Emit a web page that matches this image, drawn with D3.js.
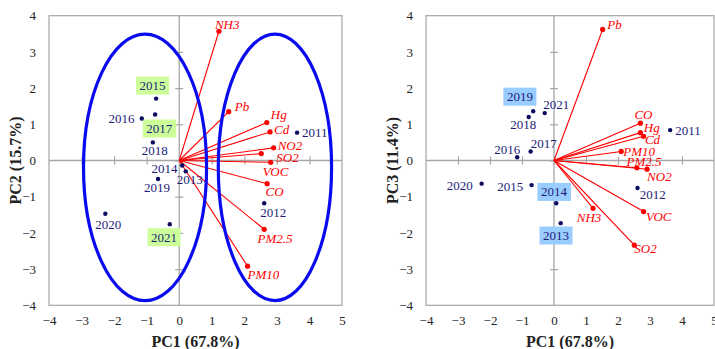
<!DOCTYPE html>
<html>
<head>
<meta charset="utf-8">
<script src="https://cdn.jsdelivr.net/npm/d3@7"></script>
<style>
  html, body { margin: 0; padding: 0; background: #fff; }
  svg { display: block; }
  text { font-family: "Liberation Serif", "Times New Roman", serif; }
</style>
</head>
<body>
<svg id="chart" width="715" height="349"></svg>
<script>
// ---------------- DATA ----------------
const years = ["2011","2012","2013","2014","2015","2016","2017","2018","2019","2020","2021"];
// Scores PC1 / PC2 / PC3
const scorePC1 = [3.62, 2.61, 0.20, 0.09, -0.71, -1.15, -0.74, -0.81, -0.65, -2.27, -0.29];
const scorePC2 = [0.77, -1.18, -0.30, -0.14, 1.71, 1.16, 1.27, 0.50, -0.51, -1.47, -1.76];
const scorePC1b = [3.63, 2.61, 0.21, 0.07, -0.70, -1.15, -0.73, -0.79, -0.65, -2.26, -0.29];
const scorePC3 = [0.84, -0.76, -1.73, -1.18, -0.68, 0.09, 0.25, 1.20, 1.36, -0.64, 1.31];

const pollutants = ["NH3","Pb","Hg","Cd","NO2","SO2","VOC","CO","PM2.5","PM10"];
// Loadings (scaled) PC1 / PC2 / PC3
const loadPC1 = [1.22, 1.52, 2.69, 2.79, 2.90, 2.52, 2.81, 2.70, 2.61, 2.10];
const loadPC2 = [3.57, 1.35, 1.05, 0.79, 0.35, 0.19, -0.05, -0.64, -1.90, -2.92];
const loadPC1b = [1.22, 1.52, 2.70, 2.80, 2.91, 2.51, 2.80, 2.70, 2.59, 2.10];
const loadPC3 = [-1.32, 3.62, 0.77, 0.67, -0.24, -2.34, -1.41, 1.03, -0.20, 0.25];

// Cluster ellipses (centre x, centre y, radius x, radius y) in PC1/PC2 units
const ellipseCX = [-1.05, 2.94];
const ellipseCY = [-0.19, -0.19];
const ellipseRX = [1.89, 1.74];
const ellipseRY = [3.68, 3.68];

const xTicks = [-4,-3,-2,-1,0,1,2,3,4,5];
const yTicks = [-4,-3,-2,-1,0,1,2,3,4];

const highlightLeft = ["2015","2017","2021"];
const highlightRight = ["2019","2014","2013"];

// ---------------- LAYOUT (label offsets, px) ----------------
const scoreOffLeft = {
  "2011":[5,0],"2012":[-4,9],"2013":[-9,8],"2014":[-30.6,3],"2015":[-16.5,-13],
  "2016":[-33.4,0],"2017":[-8.8,14],"2018":[-11,8],"2019":[-14,8.4],"2020":[-10,11],"2021":[-18.7,13]
};
const scoreOffRight = {
  "2011":[5,0],"2012":[2.3,6],"2013":[-17.7,12.4],"2014":[-15.3,-11.3],"2015":[-34.4,1],
  "2016":[-23,-8],"2017":[0,-8.4],"2018":[-18.4,7.7],"2019":[-26.3,-14.6],"2020":[-35,2],"2021":[-1.4,-8.3]
};
const loadOffLeft = {
  "NH3":[-4,-7],"Pb":[6,-5],"Hg":[4,-8],"Cd":[4,-2],"NO2":[4,-2],"SO2":[15,4],
  "VOC":[-8,9],"CO":[-1.6,8],"PM2.5":[-6.6,9.7],"PM10":[0,8]
};
const loadOffRight = {
  "Pb":[4.6,-5.4],"CO":[-6,-8.3],"Hg":[3.4,-5],"Cd":[1.3,3.7],"PM10":[2,0],
  "PM2.5":[-10.3,-6.3],"NO2":[0,7.4],"NH3":[-16.3,9],"VOC":[2.3,5],"SO2":[0,3.7]
};

const svg = d3.select("#chart");
svg.append("rect").attr("width",715).attr("height",349).attr("fill","#fff");

const NAVY = "#1c1c78";
const DOT = "#0a0a60";
const RED = "#ff0000";
const GRAY = "#a6a6a6";

function panel(opts) {
  const x = d3.scaleLinear().domain([-4,5]).range([opts.left, opts.right]);
  const y = d3.scaleLinear().domain([-4,4]).range([305.3, 15.7]);
  const g = svg.append("g");

  // frame
  g.append("rect")
    .attr("x", x(-4)).attr("y", y(4))
    .attr("width", x(5)-x(-4)).attr("height", y(-4)-y(4))
    .attr("fill","none").attr("stroke",GRAY).attr("stroke-width",1.2);

  // zero lines
  g.append("line").attr("x1",x(-4)).attr("x2",x(5)).attr("y1",y(0)).attr("y2",y(0))
    .attr("stroke",GRAY).attr("stroke-width",1.3);
  g.append("line").attr("x1",x(0)).attr("x2",x(0)).attr("y1",y(4)).attr("y2",y(-4))
    .attr("stroke",GRAY).attr("stroke-width",1.3);

  // tick marks on zero lines (no labels)
  const tickStyle = sel => { sel.select(".domain").remove(); sel.selectAll("text").remove();
    sel.selectAll("line").attr("stroke",GRAY).attr("stroke-width",1.2); };
  g.append("g").attr("transform",`translate(0,${y(0)})`)
    .call(d3.axisBottom(x).tickValues(xTicks.slice(1,-1)).tickSize(4)).call(tickStyle);
  g.append("g").attr("transform",`translate(0,${y(0)})`)
    .call(d3.axisTop(x).tickValues(xTicks.slice(1,-1)).tickSize(4)).call(tickStyle);
  g.append("g").attr("transform",`translate(${x(0)},0)`)
    .call(d3.axisLeft(y).tickValues(yTicks.slice(1,-1)).tickSize(4)).call(tickStyle);
  g.append("g").attr("transform",`translate(${x(0)},0)`)
    .call(d3.axisRight(y).tickValues(yTicks.slice(1,-1)).tickSize(4)).call(tickStyle);

  // tick labels
  const labStyle = sel => { sel.select(".domain").remove(); sel.selectAll("line").remove();
    sel.selectAll("text").attr("font-family","Liberation Serif, serif").attr("font-size",13).attr("fill","#222"); };
  g.append("g").attr("transform",`translate(${x(-4)},0)`)
    .call(d3.axisLeft(y).tickValues(yTicks).tickSize(0).tickPadding(13).tickFormat(d3.format("d"))).call(labStyle);
  g.append("g").attr("transform",`translate(0,${y(-4)})`)
    .call(d3.axisBottom(x).tickValues(xTicks).tickSize(0).tickPadding(10).tickFormat(d3.format("d"))).call(labStyle);

  // axis titles
  g.append("text").attr("x",(x(-4)+x(5))/2).attr("y",341.5)
    .attr("text-anchor","middle").attr("dominant-baseline","central")
    .attr("font-size",16).attr("font-weight","bold").attr("fill","#222").text(opts.xTitle);
  g.append("text").attr("transform",`translate(${opts.yTitleX},${y(0)}) rotate(-90)`)
    .attr("text-anchor","middle").attr("dominant-baseline","central")
    .attr("font-size",16).attr("font-weight","bold").attr("fill","#222").text(opts.yTitle);

  // loading vectors
  const L = pollutants.map((p,i)=>({name:p, px:opts.lx[i], py:opts.ly[i]}));
  g.selectAll(".vec").data(L).join("line")
    .attr("x1",x(0)).attr("y1",y(0)).attr("x2",d=>x(d.px)).attr("y2",d=>y(d.py))
    .attr("stroke",RED).attr("stroke-width",1.1);
  g.selectAll(".vpt").data(L).join("circle")
    .attr("cx",d=>x(d.px)).attr("cy",d=>y(d.py)).attr("r",2.6).attr("fill",RED);

  // ellipses
  if (opts.ellipses) {
    ellipseCX.forEach((cx,i)=>{
      g.append("ellipse")
        .attr("cx",x(cx)).attr("cy",y(ellipseCY[i]))
        .attr("rx",x(cx+ellipseRX[i])-x(cx)).attr("ry",y(ellipseCY[i]-ellipseRY[i])-y(ellipseCY[i]))
        .attr("fill","none").attr("stroke","#0a0aee").attr("stroke-width",3.2);
    });
  }

  // loading labels
  g.selectAll(".vlab").data(L).join("text")
    .attr("x",d=>x(d.px)+opts.loff[d.name][0]).attr("y",d=>y(d.py)+opts.loff[d.name][1])
    .attr("dominant-baseline","central").attr("font-size",13).attr("font-style","italic")
    .attr("fill",RED).text(d=>d.name);

  // scores
  const S = years.map((yr,i)=>({name:yr, px:opts.sx[i], py:opts.sy[i]}));
  // highlight boxes first
  const labG = g.append("g");
  S.forEach(d=>{
    const t = labG.append("text")
      .attr("x",x(d.px)+opts.soff[d.name][0]).attr("y",y(d.py)+opts.soff[d.name][1])
      .attr("dominant-baseline","central").attr("font-size",13).attr("fill",NAVY).text(d.name);
    if (opts.hl.includes(d.name)) {
      const b = t.node().getBBox();
      labG.insert("rect", () => t.node())
        .attr("x",b.x-3.5).attr("y",b.y-1.5).attr("width",b.width+7).attr("height",b.height+3)
        .attr("fill",opts.hlColor);
    }
  });
  g.selectAll(".spt").data(S).join("circle")
    .attr("cx",d=>x(d.px)).attr("cy",d=>y(d.py)).attr("r",2.2).attr("fill",DOT);
}

panel({left:49, right:342, xTitle:"PC1 (67.8%)", yTitle:"PC2 (15.7%)", yTitleX:15,
  sx:scorePC1, sy:scorePC2, lx:loadPC1, ly:loadPC2, soff:scoreOffLeft, loff:loadOffLeft,
  hl:highlightLeft, hlColor:"#ccff99", ellipses:true});
panel({left:426, right:714, xTitle:"PC1 (67.8%)", yTitle:"PC3 (11.4%)", yTitleX:392,
  sx:scorePC1b, sy:scorePC3, lx:loadPC1b, ly:loadPC3, soff:scoreOffRight, loff:loadOffRight,
  hl:highlightRight, hlColor:"#99ccff", ellipses:false});
</script>
</body>
</html>
